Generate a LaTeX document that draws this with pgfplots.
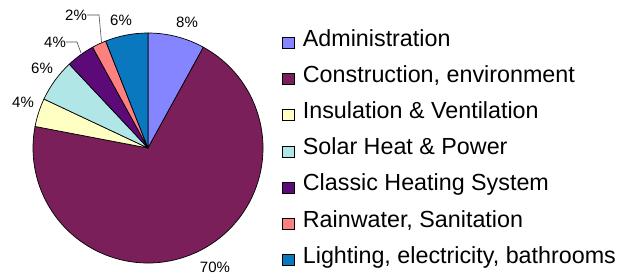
\documentclass[border=0pt]{standalone}
\usepackage{pgfplots}
\pgfplotsset{compat=1.18}
\usepackage{fontspec}
\setmainfont{Liberation Sans}
\definecolor{cAdmin}{HTML}{8585FF}
\definecolor{cConst}{HTML}{7B1F5A}
\definecolor{cInsul}{HTML}{FFFFC4}
\definecolor{cSolar}{HTML}{B0E6E6}
\definecolor{cClass}{HTML}{5C0A78}
\definecolor{cRain}{HTML}{FF8080}
\definecolor{cLight}{HTML}{0A78BE}
\pgfdeclareplotmark{emptymark}{}
\pgfplotsset{
  pieslice/.style={
    only marks, scatter, mark=emptymark, forget plot,
    visualization depends on={\thisrow{pct}\as\pct},
    visualization depends on={\thisrow{cum}\as\cum},
    scatter/@pre marker code/.code={%
      \pgfmathsetmacro\sa{90-3.6*\cum}%
      \pgfmathsetmacro\ea{90-3.6*(\cum+\pct)}%
      \filldraw[fill=#1, draw=black, line width=0.7pt, line join=round]
        (0,0) -- (\sa:115bp) arc[start angle=\sa, end angle=\ea, radius=115bp] -- cycle;
    },
    scatter/@post marker code/.code={},
  },
  sqlegend/.style={legend image code/.code={\draw[fill=#1, draw=black, line width=0.7pt] (0bp,-8bp) rectangle (12bp,3bp);}},
}
\begin{document}
\begin{tikzpicture}
\begin{axis}[
  width=619bp, height=276bp, scale only axis,
  xmin=0, xmax=619, ymin=0, ymax=276,
  hide axis, clip=false,
  legend style={at={(axis cs:282,254)}, anchor=north west, draw=none, fill=none,
    font=\fontsize{23.3bp}{25bp}\selectfont, inner sep=0pt, row sep=0pt, column sep=0pt,
    nodes={inner sep=0pt, minimum height=36.2bp, text height=16.5bp, text depth=4.8bp, anchor=west}},
  legend cell align=left,
]
\path (axis cs:0,0) rectangle (axis cs:619,276);
% pie slices: x y (centre), percent, cumulative percent before slice
\addplot[pieslice=cAdmin] table {x y pct cum
148 128 8 0
};
\addplot[pieslice=cConst] table {x y pct cum
148 128 70 8
};
\addplot[pieslice=cInsul] table {x y pct cum
148 128 4 78
};
\addplot[pieslice=cSolar] table {x y pct cum
148 128 6 82
};
\addplot[pieslice=cClass] table {x y pct cum
148 128 4 88
};
\addplot[pieslice=cRain] table {x y pct cum
148 128 2 92
};
\addplot[pieslice=cLight] table {x y pct cum
148 128 6 94
};
% legend
\addlegendimage{sqlegend=cAdmin}\addlegendentry{\hspace{8bp}Administration}
\addlegendimage{sqlegend=cConst}\addlegendentry{\hspace{8bp}Construction, environment}
\addlegendimage{sqlegend=cInsul}\addlegendentry{\hspace{8bp}Insulation \& Ventilation}
\addlegendimage{sqlegend=cSolar}\addlegendentry{\hspace{8bp}Solar Heat \& Power}
\addlegendimage{sqlegend=cClass}\addlegendentry{\hspace{8bp}Classic Heating System}
\addlegendimage{sqlegend=cRain}\addlegendentry{\hspace{8bp}Rainwater, Sanitation}
\addlegendimage{sqlegend=cLight}\addlegendentry{\hspace{8bp}Lighting, electricity, bathrooms}
% percentage labels
\begin{scope}[every node/.style={font=\fontsize{15bp}{17bp}\selectfont, inner sep=0pt}]
\node at (axis cs:187,254) {8\%};
\node at (axis cs:215,9) {70\%};
\node at (axis cs:23,174) {4\%};
\node at (axis cs:42,208) {6\%};
\node at (axis cs:55,234) {4\%};
\node at (axis cs:76,261) {2\%};
\node at (axis cs:121,256) {6\%};
\end{scope}
\draw[black!70, line width=0.6pt] (axis cs:87,261) -- (axis cs:99,261) -- (axis cs:101.5,234);
\draw[black!70, line width=0.6pt] (axis cs:66,234) -- (axis cs:77,234) -- (axis cs:81,223);
\end{axis}
\end{tikzpicture}
\end{document}
